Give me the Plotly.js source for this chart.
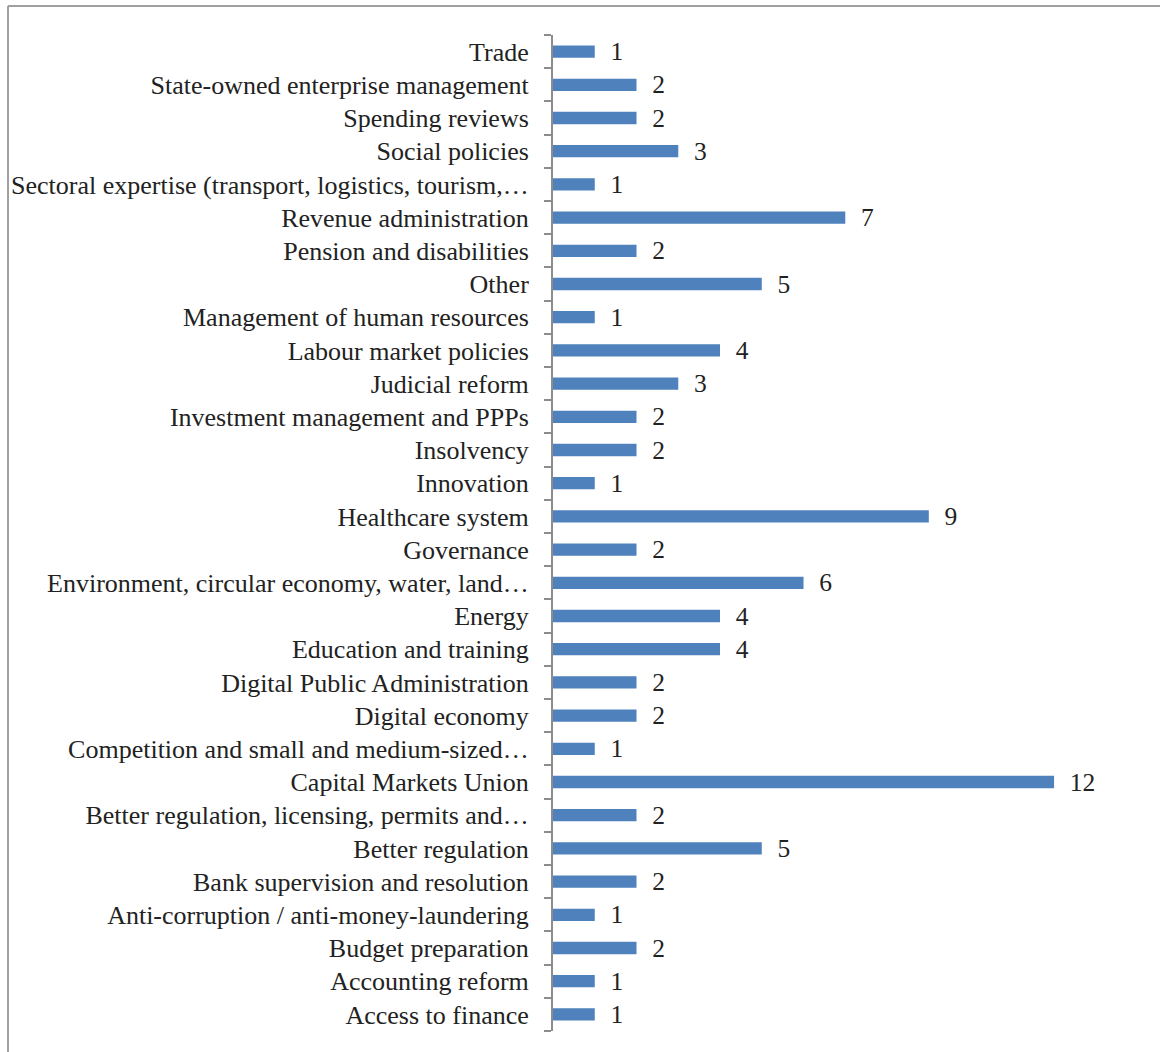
<!DOCTYPE html>
<html>
<head>
<meta charset="utf-8">
<script src="https://cdn.plot.ly/plotly-3.0.1.min.js"></script>
<style>
  html, body { margin: 0; padding: 0; background: #fff; }
  #chart { width: 1160px; height: 1052px; }
</style>
</head>
<body>
<div id="chart"></div>
<script>
// Categories listed bottom to top
const categories = [
  "Access to finance",
  "Accounting reform",
  "Budget preparation",
  "Anti-corruption / anti-money-laundering",
  "Bank supervision and resolution",
  "Better regulation",
  "Better regulation, licensing, permits and\u2026",
  "Capital Markets Union",
  "Competition and small and medium-sized\u2026",
  "Digital economy",
  "Digital Public Administration",
  "Education and training",
  "Energy",
  "Environment, circular economy, water, land\u2026",
  "Governance",
  "Healthcare system",
  "Innovation",
  "Insolvency",
  "Investment management and PPPs",
  "Judicial reform",
  "Labour market policies",
  "Management of human resources",
  "Other",
  "Pension and disabilities",
  "Revenue administration",
  "Sectoral expertise (transport, logistics, tourism,\u2026",
  "Social policies",
  "Spending reviews",
  "State-owned enterprise management",
  "Trade"
];
const counts = [1, 1, 2, 1, 2, 5, 2, 12, 1, 2, 2, 4, 4, 6, 2, 9, 1, 2, 2, 3, 4, 1, 5, 2, 7, 1, 3, 2, 2, 1];

const FONT = "'Liberation Serif', 'Times New Roman', serif";
const TXT = "#222222";
const AXIS = "#8c8c8c";
const BORDER = "#a0a0a0";
const FSIZE = 26;

const trace = {
  type: "bar",
  orientation: "h",
  y: categories,
  x: counts,
  width: 0.37,
  marker: { color: "#4f81bd", line: { width: 0 } },
  texttemplate: "\u00a0\u00a0%{x}",
  textposition: "outside",
  constraintext: "none",
  cliponaxis: false,
  textfont: { family: FONT, size: 25.5, color: TXT },
  hoverinfo: "x+y"
};

const layout = {
  width: 1160,
  height: 1052,
  margin: { l: 553, r: 60, t: 35, b: 21, pad: 0 },
  paper_bgcolor: "#ffffff",
  plot_bgcolor: "#ffffff",
  showlegend: false,
  font: { family: FONT, size: FSIZE, color: TXT },
  xaxis: {
    visible: false,
    range: [0, 13.1],
    fixedrange: true
  },
  yaxis: {
    type: "category",
    categoryorder: "array",
    categoryarray: categories,
    range: [-0.5, categories.length - 0.5],
    showline: true,
    linecolor: AXIS,
    linewidth: 2,
    ticks: "outside",
    tickson: "boundaries",
    ticklen: 7,
    tickwidth: 2,
    tickcolor: AXIS,
    ticklabelstandoff: 17,
    showgrid: false,
    zeroline: false,
    tickfont: { family: FONT, size: FSIZE, color: TXT },
    fixedrange: true
  },
  shapes: [
    { type: "line", xref: "paper", yref: "paper",
      x0: (8 - 553) / 547, x1: (1170 - 553) / 547,
      y0: (1031 - 6) / 996, y1: (1031 - 6) / 996,
      line: { color: BORDER, width: 2 } },
    { type: "line", xref: "paper", yref: "paper",
      x0: (8 - 553) / 547, x1: (8 - 553) / 547,
      y0: (1031 - 6) / 996, y1: (1031 - 1060) / 996,
      line: { color: BORDER, width: 2 } }
  ]
};

Plotly.newPlot("chart", [trace], layout, { displayModeBar: false, staticPlot: true });
</script>
</body>
</html>
